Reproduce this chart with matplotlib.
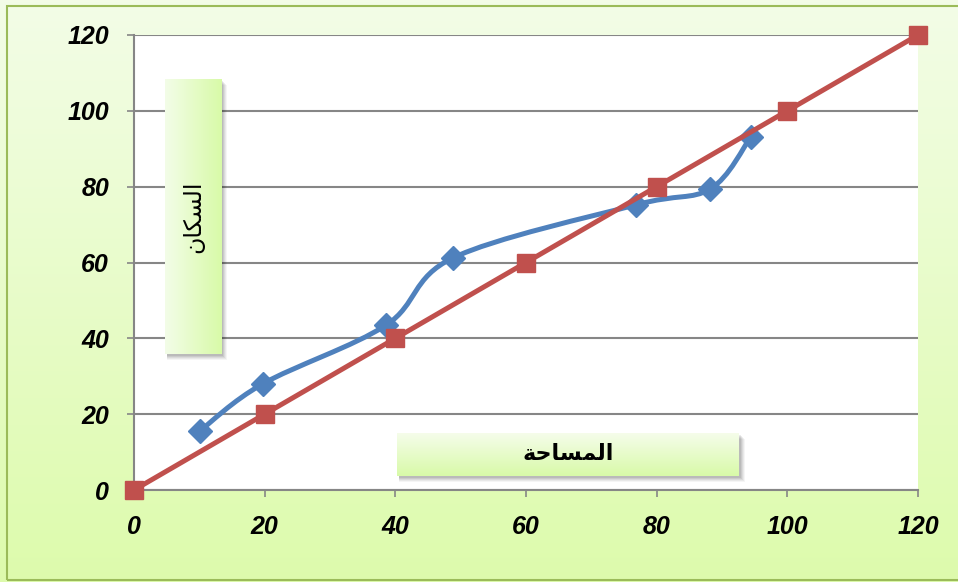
import numpy as np
import matplotlib
matplotlib.use("Agg")
import matplotlib.pyplot as plt
from matplotlib.path import Path
from matplotlib.patches import PathPatch, Rectangle
from matplotlib.ticker import MultipleLocator

# ---------------------------------------------------------------------------
# Data
# ---------------------------------------------------------------------------
area_blue = [10.1, 19.7, 38.6, 48.8, 76.8, 88.2, 94.4]
pop_blue = [15.6, 28.0, 43.5, 61.2, 75.2, 79.4, 93.1]

area_red = [0, 20, 40, 60, 80, 100, 120]
pop_red = [0, 20, 40, 60, 80, 100, 120]

x_ticks = [0, 20, 40, 60, 80, 100, 120]
y_ticks = [0, 20, 40, 60, 80, 100, 120]

# Arabic labels written in shaped presentation forms, visual order,
# because matplotlib does not shape or reorder right-to-left text.
# "المساحة"
label_area = "\ufe94\ufea3\ufe8e\ufeb4\ufee4\ufedf\ufe8d"
# "السكان"
label_pop = "\ufee5\ufe8e\ufedc\ufeb4\ufedf\ufe8d"

BLUE = "#4F81BD"
RED = "#C0504D"
GRID = "#868686"

W, H = 958, 582


def fx(px):
    return px / W


def fy(py):
    return 1 - py / H


def smooth_path(xs, ys):
    """Excel-like smoothed line: cubic Bezier through every point."""
    pts = np.column_stack([xs, ys]).astype(float)
    n = len(pts)
    verts = [pts[0]]
    codes = [Path.MOVETO]
    for i in range(n - 1):
        p0 = pts[i - 1] if i > 0 else pts[i]
        p1 = pts[i]
        p2 = pts[i + 1]
        p3 = pts[i + 2] if i + 2 < n else pts[i + 1]
        verts += [p1 + (p2 - p0) / 6.0, p2 - (p3 - p1) / 6.0, p2]
        codes += [Path.CURVE4] * 3
    return Path(verts, codes)


def gradient_box(fig, rect_px, c0, c1, horizontal=True):
    """Text box with a two-colour gradient fill and a soft shadow."""
    x0, y0, x1, y1 = rect_px
    # soft shadow, mostly under the bottom edge
    for k, a in ((6, 0.04), (5, 0.05), (4, 0.06), (3, 0.07), (2, 0.08)):
        fig.patches.append(Rectangle(
            (fx(x0 + 2), fy(y1 + k)), fx(x1 - x0 + k - 2), (y1 - y0) / H,
            transform=fig.transFigure, facecolor="black", alpha=a,
            edgecolor="none", zorder=5))
    bax = fig.add_axes([fx(x0), fy(y1), fx(x1 - x0), (y1 - y0) / H], zorder=6)
    t = np.linspace(0, 1, 256)
    c0 = np.array(matplotlib.colors.to_rgb(c0))
    c1 = np.array(matplotlib.colors.to_rgb(c1))
    grad = c0[None, :] * (1 - t[:, None]) + c1[None, :] * t[:, None]
    if horizontal:
        img = grad[None, :, :]
    else:
        img = grad[:, None, :]
    bax.imshow(img, extent=[0, 1, 0, 1], aspect="auto", origin="upper")
    bax.set_axis_off()
    return bax


fig = plt.figure(figsize=(W / 100, H / 100), dpi=100)

# --- background: vertical gradient, light at top, green at bottom ---
bg = fig.add_axes([0, 0, 1, 1], zorder=-10)
t = np.linspace(0, 1, 256)[:, None]
top = np.array([0.953, 0.992, 0.906])
bottom = np.array([0.867, 0.984, 0.675])
bg.imshow((top * (1 - t) + bottom * t)[:, None, :], extent=[0, 1, 0, 1],
          aspect="auto", origin="upper")
bg.set_axis_off()
fig.patches.append(Rectangle((fx(7), fy(580)), 1.0, (580 - 6) / H,
                             transform=fig.transFigure, fill=False,
                             edgecolor="#9BBB59", linewidth=1.5, zorder=-5))

# --- main plot area ---
ax = fig.add_axes([fx(134), fy(490), fx(918 - 134), (490 - 35) / H])
ax.set_facecolor("white")
ax.set_xlim(0, 120)
ax.set_ylim(0, 120)
ax.xaxis.set_major_locator(MultipleLocator(20))
ax.yaxis.set_major_locator(MultipleLocator(20))
ax.set_xticks(x_ticks)
ax.set_yticks(y_ticks)

for s in ("top", "right"):
    ax.spines[s].set_visible(False)
for s in ("left", "bottom"):
    ax.spines[s].set_color(GRID)
    ax.spines[s].set_linewidth(1.5)

ax.grid(axis="y", color=GRID, linewidth=1.5)
ax.set_axisbelow(True)
ax.tick_params(direction="out", length=5, width=1.2, color=GRID, pad=13)
for lab in ax.get_xticklabels() + ax.get_yticklabels():
    lab.set_fontfamily("Liberation Sans")
    lab.set_fontweight("bold")
    lab.set_fontstyle("italic")
    lab.set_fontsize(18)

# blue smoothed series
ax.add_patch(PathPatch(smooth_path(area_blue, pop_blue), facecolor="none",
                       edgecolor=BLUE, linewidth=3.6, capstyle="round",
                       joinstyle="round", zorder=3))
ax.plot(area_blue, pop_blue, linestyle="none", marker="D", markersize=12,
        color=BLUE, zorder=4, clip_on=False)

# red straight series
ax.plot(area_red, pop_red, color=RED, linewidth=3.6, marker="s",
        markersize=13, zorder=5, clip_on=False)

# --- text boxes ---
vbox = gradient_box(fig, (165, 79, 221, 354), "#F3FDE8", "#D8FAA8",
                    horizontal=True)
vbox.text(0.5, 0.5, label_pop, rotation=90, ha="center", va="center",
          fontsize=17, family="DejaVu Sans", transform=vbox.transAxes)

hbox = gradient_box(fig, (397, 433, 739, 476), "#F6FDEC", "#D8FAA8",
                    horizontal=False)
hbox.text(0.5, 0.5, label_area, ha="center", va="center", fontsize=16,
          fontweight="bold", family="DejaVu Sans", transform=hbox.transAxes)

fig.savefig("out.png", dpi=100)
